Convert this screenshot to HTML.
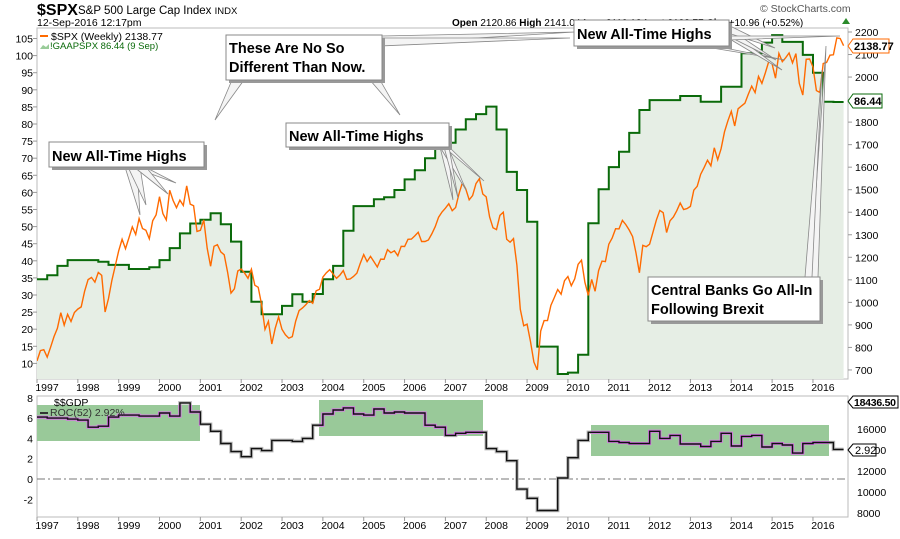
<!DOCTYPE html>
<html><head><meta charset="utf-8"><style>
body{margin:0;background:#fff;}
svg text{font-family:"Liberation Sans",sans-serif;}
</style></head><body>
<svg id="chart" width="900" height="534" xmlns="http://www.w3.org/2000/svg">
<defs>
<clipPath id="mainClip"><rect x="37" y="28" width="811" height="351"/></clipPath>
<clipPath id="boxClip"><rect x="37" y="405" width="163" height="36"/><rect x="319" y="400" width="164" height="36"/><rect x="591" y="425" width="238" height="31"/></clipPath>
</defs>
<!-- header -->
<g>
<text x="37" y="15" font-size="16" font-weight="bold">$SPX</text>
<text x="78" y="14" font-size="11.5">S&amp;P 500 Large Cap Index <tspan font-size="9.5">INDX</tspan></text>
<text x="37" y="26" font-size="10.5">12-Sep-2016 12:17pm</text>
<text x="452" y="26" font-size="10"><tspan font-weight="bold">Open</tspan> 2120.86  <tspan font-weight="bold">High</tspan> 2141.04  <tspan font-weight="bold">Low</tspan> 2119.12  <tspan font-weight="bold">Last</tspan> 2138.77  <tspan font-weight="bold">Chg</tspan> +10.96 (+0.52%)</text>
<polygon points="842,24 846,18 850,24" fill="#2a8a2a"/>
<text x="760" y="12" font-size="10.5" fill="#555">© StockCharts.com</text>
</g>
<!-- main panel -->
<rect x="37" y="28" width="811" height="351" fill="#fff" stroke="#bbb"/>
<g id="mainAxes"></g>
<g clip-path="url(#mainClip)">
<path id="gaapArea" fill="#e6eee5"/>
<path id="gaapLine" fill="none" stroke="#0a6a0a" stroke-width="2"/>
<path id="spxLine" fill="none" stroke="#ff6a00" stroke-width="1.4"/>
</g>
<g>
<rect x="40" y="35" width="8" height="2" fill="#ff6a00"/>
<text x="51" y="40" font-size="10.5" font-family="Liberation Mono">$SPX (Weekly) 2138.77</text>
<polygon points="40,49 43,45 46,47 49,44 49,49" fill="#9c9"/>
<text x="50" y="49" font-size="9.5" fill="#0a6a0a">!GAAPSPX 86.44 (9 Sep)</text>
</g>
<!-- callouts -->
<g fill="#f4f4f4" stroke="#888" stroke-width="0.8">
<polygon points="125,167 137,167 140,215"/><polygon points="128,167 140,167 146,205"/><polygon points="132,167 145,167 176,183"/><polygon points="134,167 146,167 168,194"/>
<polygon points="232,80 244,80 215,120"/><polygon points="370,80 380,80 400,115"/>
<polygon points="380,36 380,44 575,32"/><polygon points="380,38 380,46 570,38"/>
<polygon points="440,147 448,147 453,200"/><polygon points="440,147 448,147 466,190"/><polygon points="444,147 449,147 484,181"/><polygon points="444,147 449,147 458,198"/>
<polygon points="700,46 715,46 785,60"/><polygon points="728,30 728,38 782,70"/><polygon points="728,28 728,36 776,60"/><polygon points="728,25 728,33 775,48"/><polygon points="728,36 728,40 840,36"/>
<polygon points="810,277 818,277 826,46"/><polygon points="805,277 812,277 822,70"/>
</g>
<g>
<rect x="52" y="145" width="155" height="25" fill="#999"/>
<rect x="49" y="142" width="155" height="25" fill="#fff" stroke="#888"/>
<text x="52" y="161" font-size="14.5" font-weight="bold">New All-Time Highs</text>
<rect x="229" y="38" width="156" height="45" fill="#999"/>
<rect x="226" y="35" width="156" height="45" fill="#fff" stroke="#888"/>
<text x="229" y="53" font-size="14.5" font-weight="bold">These Are No So</text>
<text x="229" y="72" font-size="14.5" font-weight="bold">Different Than Now.</text>
<rect x="289" y="126" width="163" height="24" fill="#999"/>
<rect x="286" y="123" width="163" height="24" fill="#fff" stroke="#888"/>
<text x="289" y="141" font-size="14.5" font-weight="bold">New All-Time Highs</text>
<rect x="577" y="23" width="155" height="26" fill="#999"/>
<rect x="574" y="20" width="155" height="26" fill="#fff" stroke="#888"/>
<text x="577" y="39" font-size="14.5" font-weight="bold">New All-Time Highs</text>
<rect x="651" y="280" width="172" height="44" fill="#999"/>
<rect x="648" y="277" width="172" height="44" fill="#fff" stroke="#888"/>
<text x="651" y="295" font-size="14.5" font-weight="bold">Central Banks Go All-In</text>
<text x="651" y="314" font-size="14.5" font-weight="bold">Following Brexit</text>
</g>
<g>
<polygon points="848,46 853,39 889,39 889,53 853,53" fill="#fff" stroke="#ff6a00"/>
<text x="854" y="50" font-size="11" font-weight="bold">2138.77</text>
<polygon points="848,101 853,94 882,94 882,108 853,108" fill="#fff" stroke="#0a6a0a"/>
<text x="854" y="105" font-size="11" font-weight="bold">86.44</text>
</g>
<!-- lower panel -->
<rect x="37" y="396" width="811" height="121" fill="#fff" stroke="#bbb"/>
<g fill="#99c999">
<rect x="37" y="405" width="163" height="36"/><rect x="319" y="400" width="164" height="36"/><rect x="591" y="425" width="238" height="31"/>
</g>
<line x1="37" x2="848" y1="479" y2="479" stroke="#777" stroke-dasharray="8,3,2,3"/>
<g id="lowerAxes"></g>
<path id="gdpHalo" fill="none" stroke="#bbb" stroke-width="3.5"/>
<path id="gdpMagenta" clip-path="url(#boxClip)" fill="none" stroke="#d070e0" stroke-width="3"/>
<path id="gdpLine" fill="none" stroke="#111" stroke-width="1.4"/>
<g>
<text x="54" y="406" font-size="10.5">$$GDP</text>
<rect x="40" y="412" width="8" height="2" fill="#333"/>
<text x="50" y="416" font-size="10.5" fill="#333">ROC(52) 2.92%</text>
</g>
<polygon points="848,402 853,396 898,396 898,408 853,408" fill="#fff" stroke="#000"/>
<text x="854" y="406" font-size="10.5" font-weight="bold" textLength="42">18436.50</text>
<polygon points="848,450 853,444 876,444 876,456 853,456" fill="#fff" stroke="#000"/>
<text x="855" y="454" font-size="11">2.92</text>
</svg>
<script>
// ===== data =====
const years = [1997,1998,1999,2000,2001,2002,2003,2004,2005,2006,2007,2008,2009,2010,2011,2012,2013,2014,2015,2016];
const leftTicks = [105,100,95,90,85,80,75,70,65,60,55,50,45,40,35,30,25,20,15,10];
const rightTicks = [2200,2100,2000,1900,1800,1700,1600,1500,1400,1300,1200,1100,1000,900,800,700];
const gdpLeftTicks = [8,6,4,2,0,-2];
const gdpRightTicks = [16000,14000,12000,10000,8000];
// S&P 500 monthly closes, starting Jan 1997
const spxValues = [740,786,790,757,801,848,885,954,899,947,915,955,
970,980,1049,1101,1111,1090,1133,1120,957,1017,1098,1163,
1229,1280,1238,1286,1335,1301,1372,1328,1320,1282,1362,1388,
1469,1394,1366,1498,1452,1420,1454,1430,1517,1436,1429,1315,
1320,1366,1240,1160,1249,1256,1224,1211,1134,1041,1060,1139,
1148,1130,1107,1147,1076,1067,990,880,916,815,885,936,
880,856,841,848,917,964,975,990,1008,996,1051,1058,
1112,1131,1145,1126,1107,1121,1141,1102,1104,1115,1130,1174,
1212,1181,1204,1181,1157,1192,1191,1234,1220,1229,1207,1249,
1248,1280,1281,1295,1311,1270,1270,1277,1304,1336,1378,1401,
1418,1438,1407,1421,1482,1531,1503,1455,1474,1527,1549,1481,
1468,1379,1331,1323,1386,1400,1280,1267,1283,1165,969,896,
903,826,735,700,873,919,919,987,1021,1057,1036,1096,
1115,1074,1104,1169,1187,1089,1031,1102,1049,1141,1183,1181,
1258,1286,1327,1326,1364,1345,1321,1292,1219,1131,1253,1247,
1258,1312,1366,1408,1398,1310,1362,1379,1407,1441,1412,1416,
1426,1498,1515,1569,1598,1631,1606,1686,1633,1682,1757,1806,
1848,1783,1859,1872,1884,1924,1960,1931,2003,1972,2018,2068,
2059,1995,2105,2068,2086,2107,2063,2104,1972,1920,2079,2080,
2044,1940,1932,2060,2065,2097,2099,2174,2171,2139];
// GAAP earnings, quarterly from 1997
const gaapValues = [34.6,35.8,38.5,40.2,40.2,40.2,39.7,38.8,38.8,37.6,37.6,38.1,40.2,43.7,48,50.9,52,53.9,50.7,45.6,
36.8,28,24.4,24.4,26.8,30.2,28,30.3,34.6,38.5,48.8,56,56,58,58.6,60.7,63.8,66.5,70,74.5,
74.5,78.4,81.4,82.9,85.1,78.4,66,60.7,51.4,14.9,14.9,6.9,7.3,12.5,51,60.9,67.4,71.9,77.4,84.1,
87,87,87,88.2,88.2,86.5,86.5,90.9,90.9,100.7,100.7,103.8,106,104,104,100.2,95,86.5,86.44];
// Nominal GDP ROC(52), quarterly from 1997
const gdpRoc = [6.1,6.0,6.0,5.9,5.8,5.1,5.2,6.1,6.3,6.3,6.2,6.2,6.5,6.2,
7.5,6.6,5.4,4.7,3.5,2.7,2.2,3.0,2.8,3.8,3.8,3.7,4.0,5.3,6.4,6.8,7.0,6.4,6.3,6.9,6.5,6.6,6.5,6.5,5.3,5.1,4.3,4.5,4.6,4.6,3.0,2.7,1.8,-1.0,
-1.9,-3.1,-3.1,0.1,2.1,3.8,4.6,4.6,3.7,3.6,3.5,3.5,4.7,4.0,4.3,3.45,3.45,3.2,3.7,4.5,3.25,4.2,4.3,3.15,3.5,3.35,2.55,3.5,3.6,3.6,2.92];

// ===== scales =====
const X0 = 37, PXY = 40.84, XEND = 841;
const xT = t => X0 + (t - 1997) * PXY;
const yL = v => 38.5 + (105 - v) * 3.42;
const yR = v => 32 + (2200 - v) * 0.2253;
const yG = v => 479 - v * 10.15;
const NS = 'http://www.w3.org/2000/svg';
function mk(tag, attrs, parent, txt){const e=document.createElementNS(NS,tag);for(const k in attrs)e.setAttribute(k,attrs[k]);if(txt!==undefined)e.textContent=txt;parent.appendChild(e);return e;}

const ma = document.getElementById('mainAxes');
leftTicks.forEach(v=>{
  const t = mk('text',{x:33,y:yL(v)+4,'font-size':10.5,'text-anchor':'end'},ma,String(v));
  
  
  mk('line',{x1:33,x2:37,y1:yL(v),y2:yL(v),stroke:'#999'},ma);
});
rightTicks.forEach(v=>{
  const t = mk('text',{x:855,y:yR(v)+4,'font-size':10.5},ma,String(v));
  
  
  mk('line',{x1:848,x2:852,y1:yR(v),y2:yR(v),stroke:'#999'},ma);
});
const la = document.getElementById('lowerAxes');
years.forEach(y=>{
  const x = xT(y);
  const a = mk('text',{x:x+10,y:391,'font-size':10.5,'text-anchor':'middle'},ma,String(y));
  
  
  const b = mk('text',{x:x+10,y:529,'font-size':10.5,'text-anchor':'middle'},la,String(y));
  
  
  mk('line',{x1:x,x2:x,y1:379,y2:383,stroke:'#999'},ma);
  mk('line',{x1:x,x2:x,y1:517,y2:521,stroke:'#999'},la);
});
gdpLeftTicks.forEach(v=>{
  const t = mk('text',{x:33,y:yG(v)+4,'font-size':10.5,'text-anchor':'end'},la,String(v));
  
  
});
gdpRightTicks.forEach((v,i)=>{
  const y = 429 + i*21;
  const t = mk('text',{x:857,y:y+4,'font-size':10.5},la,String(v));
  
  
});

function stepPath(vals, yf){
  let d='';
  vals.forEach((v,i)=>{
    const xa = xT(1997 + i*0.25), xb = Math.min(xT(1997 + (i+1)*0.25), XEND+4);
    d += (i===0?'M':'L') + xa.toFixed(1)+','+yf(v).toFixed(1)+' L'+xb.toFixed(1)+','+yf(v).toFixed(1)+' ';
  });
  return d;
}
const gd = stepPath(gaapValues, yL);
document.getElementById('gaapLine').setAttribute('d', gd);
const endX = Math.min(xT(1997 + gaapValues.length*0.25), XEND+4);
document.getElementById('gaapArea').setAttribute('d', gd + 'L'+endX+',379 L'+X0+',379 Z');

let sd='';
spxValues.forEach((v,i)=>{ sd += (i===0?'M':'L') + xT(1997 + i/12).toFixed(1)+','+yR(v).toFixed(1)+' '; });
document.getElementById('spxLine').setAttribute('d', sd);

const gp = stepPath(gdpRoc, yG);
['gdpHalo','gdpMagenta','gdpLine'].forEach(id=>document.getElementById(id).setAttribute('d', gp));
</script>
</body></html>
